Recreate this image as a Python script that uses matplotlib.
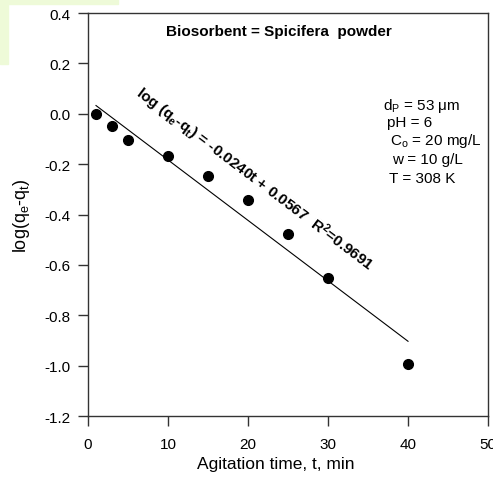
import numpy as np
import matplotlib
matplotlib.use("Agg")
import matplotlib.pyplot as plt
from matplotlib.patches import Rectangle

plt.rcParams['font.family'] = ['Liberation Sans', 'DejaVu Sans']
plt.rcParams['mathtext.fontset'] = 'custom'
plt.rcParams['mathtext.rm'] = 'Liberation Sans'
plt.rcParams['mathtext.it'] = 'Liberation Sans'
plt.rcParams['mathtext.bf'] = 'Liberation Sans:bold'

# dados
t = [1, 3, 5, 10, 15, 20, 25, 30, 40]
logq = [0.0, -0.047, -0.103, -0.169, -0.247, -0.341, -0.476, -0.653, -0.995]
slope = -0.0240
intercept = 0.0567
r2 = 0.9691
xticks = [0, 10, 20, 30, 40, 50]
yticks = [0.4, 0.2, 0.0, -0.2, -0.4, -0.6, -0.8, -1.0, -1.2]
cond = [r'd$_\mathrm{P}$ = 53 $\mathrm{\mu}$m', 'pH = 6', r'C$_\mathrm{o}$ = 20 mg/L',
        'w = 10 g/L', 'T = 308 K']

fig = plt.figure(figsize=(4.93, 4.85), dpi=100)
# fundo verde claro do slide (canto superior esquerdo)
fig.patches.append(Rectangle((0, 0.99), 0.24, 0.01, transform=fig.transFigure,
                             color='#eefad8', zorder=0))
fig.patches.append(Rectangle((0, 0.865), 0.016, 0.135, transform=fig.transFigure,
                             color='#eefad8', zorder=0))

ax = fig.add_axes([0.1785, 0.1402, 0.8114, 0.8309])

tl = np.array([1, 40])
ax.plot(tl, slope * tl + intercept, '-', color='black', lw=0.8)
ax.plot(t, logq, 'o', color='black', ms=7)

ax.set_xlim(0, 50)
ax.set_ylim(-1.2, 0.4)
ax.set_xticks(xticks)
ax.set_yticks(yticks)
ax.set_xticklabels([str(v) for v in xticks])
ax.set_yticklabels(['%.1f' % v for v in yticks])
ax.tick_params(direction='out', length=7, width=1, color='#333333', labelsize=11)
ax.tick_params(axis='x', pad=8)
ax.tick_params(axis='y', pad=5.5)
for s in ax.spines.values():
    s.set_color('#333333')
    s.set_linewidth(1)

fig.text(276 / 493, 1 - 465 / 485, 'Agitation time, t, min', fontsize=12.5,
         ha='center', va='center')
fig.text(21 / 493, 1 - 216 / 485, r'log(q$_\mathrm{e}$-q$_\mathrm{t}$)', fontsize=13,
         rotation=90, ha='center', va='center')

ax.text(23.9, 0.33, 'Biosorbent = Spicifera  powder', fontsize=11,
        fontweight='bold', ha='center', va='center')

eq = r'log (q$_\mathbf{e}$-q$_\mathbf{t}$) = -0.0240t + 0.0567  R$^\mathbf{2}$=0.9691'
ax.text(20.8, -0.259, eq, fontsize=11, fontweight='bold', rotation=-37,
        rotation_mode='anchor', ha='center', va='center')

xs = [36.9, 37.4, 37.75, 38.0, 37.6]
ys = [0.035, -0.033, -0.105, -0.178, -0.255]
for x0, y0, s in zip(xs, ys, cond):
    ax.text(x0, y0, s, fontsize=11, ha='left', va='center')

plt.savefig('out.png', dpi=100)
